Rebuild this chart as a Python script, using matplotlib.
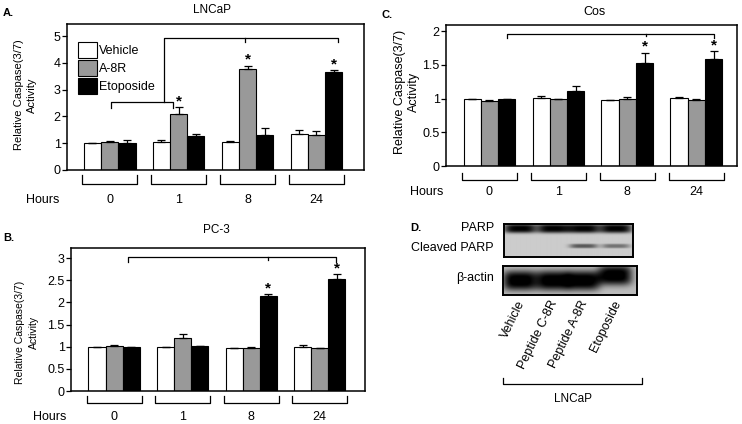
import numpy as np
import matplotlib
matplotlib.use('Agg')
import matplotlib.pyplot as plt

plt.rcParams['font.family'] = ['Liberation Sans', 'DejaVu Sans']

W, H = 742, 424

#%%
# datos
hours = ['0', '1', '8', '24']
series = ['Vehicle', 'A-8R', 'Etoposide']
colors = ['white', '#999999', 'black']

# A. LNCaP
lncap_vehicle = [1.0, 1.06, 1.06, 1.36]
lncap_a8r = [1.05, 2.10, 3.77, 1.32]
lncap_etop = [1.0, 1.28, 1.31, 3.67]
lncap_vehicle_err = [0.0, 0.05, 0.03, 0.12]
lncap_a8r_err = [0.04, 0.24, 0.13, 0.14]
lncap_etop_err = [0.12, 0.08, 0.26, 0.06]
lncap_stars = [(1, 1), (2, 1), (3, 2)]

# B. PC-3
pc3_vehicle = [1.0, 1.0, 0.98, 1.0]
pc3_a8r = [1.02, 1.19, 0.98, 0.97]
pc3_etop = [1.0, 1.01, 2.15, 2.54]
pc3_vehicle_err = [0.0, 0.0, 0.0, 0.04]
pc3_a8r_err = [0.01, 0.09, 0.02, 0.0]
pc3_etop_err = [0.0, 0.01, 0.03, 0.10]
pc3_stars = [(2, 2), (3, 2)]

# C. Cos
cos_vehicle = [1.0, 1.01, 0.98, 1.01]
cos_a8r = [0.97, 1.0, 1.0, 0.98]
cos_etop = [1.0, 1.11, 1.53, 1.58]
cos_vehicle_err = [0.0, 0.03, 0.0, 0.02]
cos_a8r_err = [0.01, 0.0, 0.02, 0.01]
cos_etop_err = [0.0, 0.08, 0.15, 0.12]
cos_stars = [(2, 2), (3, 2)]

# D. western blot
lanes = ['Vehicle', 'Peptide C-8R', 'Peptide A-8R', 'Etoposide']
parp_band = [1.0, 1.0, 1.0, 1.0]
cleaved_band = [0.0, 0.0, 0.9, 0.7]
actin_band = [1.0, 1.0, 1.0, 1.0]

#%%
fig = plt.figure(figsize=(W / 100, H / 100), dpi=100)


def px_axes(l, t, r, b):
    return fig.add_axes([l / W, 1 - b / H, (r - l) / W, (b - t) / H])


def ftext(x, y, s, **kw):
    kw.setdefault('ha', 'center')
    kw.setdefault('va', 'center')
    fig.text(x / W, 1 - y / H, s, **kw)


def panel(box, vals, errs, stars, ylim, yticks, yticklabels, xlim, grp_y, lab_y):
    l, t, r, b = box
    ax = px_axes(l, t, r, b)
    x = np.arange(len(hours))
    w = 0.25
    for k in range(3):
        ax.bar(x + (k - 1) * w, vals[k], w, color=colors[k], edgecolor='black',
               linewidth=0.8, yerr=[np.zeros(len(hours)), errs[k]], capsize=2.8,
               error_kw=dict(elinewidth=0.9, capthick=0.9, ecolor='black'))
    for g, k in stars:
        ax.annotate('*', (g + (k - 1) * w, vals[k][g] + errs[k][g]),
                    xytext=(0, 1.5), textcoords='offset points',
                    ha='center', va='baseline', fontsize=11, fontweight='bold')
    ax.set_xlim(xlim)
    ax.set_ylim(ylim)
    ax.set_yticks(yticks)
    ax.set_yticklabels(yticklabels, fontsize=9)
    ax.set_xticks([])
    ax.tick_params(axis='y', direction='out', length=3.5, width=0.9, pad=1)
    for s in ax.spines.values():
        s.set_linewidth(1.1)
    # corchetes de los grupos (debajo del eje)
    tr = ax.get_xaxis_transform()
    y0 = (b - grp_y[0]) / (b - t)
    y1 = (b - grp_y[1]) / (b - t)
    for i in x:
        ax.plot([i - 0.4, i - 0.4, i + 0.4, i + 0.4], [y0, y1, y1, y0],
                color='black', lw=0.9, transform=tr, clip_on=False)
        ax.text(i, (b - lab_y) / (b - t), hours[i], transform=tr,
                ha='center', va='center', fontsize=9)
    return ax


# A
axA = panel((67, 24, 364, 170),
            [lncap_vehicle, lncap_a8r, lncap_etop],
            [lncap_vehicle_err, lncap_a8r_err, lncap_etop_err], lncap_stars,
            (0, 5.45), [0, 1, 2, 3, 4, 5], ['0', '1', '2', '3', '4', '5'],
            (-0.62, 3.69), (175, 184), 200)
axA.plot([0.02, 0.02, 0.92, 0.92], [2.32, 2.54, 2.54, 2.32], color='black', lw=0.9)
axA.plot([0.79, 0.79, 3.31, 3.31], [2.54, 4.93, 4.93, 4.78], color='black', lw=0.9)
axA.plot([1.96, 1.96], [4.93, 4.78], color='black', lw=0.9)
# leyenda
for k, name in enumerate(series):
    yc = 50 + 18 * k
    axA.add_patch(plt.Rectangle(((78 - 67) / 297, (170 - yc - 8) / 146), 19 / 297, 16 / 146,
                                transform=axA.transAxes, facecolor=colors[k],
                                edgecolor='black', lw=0.8))
    ftext(99, yc + 1, name, ha='left', fontsize=9)
ftext(212, 10, 'LNCaP', fontsize=8.5)
ftext(3, 13, 'A.', ha='left', fontsize=8, fontweight='bold')
ftext(43, 200, 'Hours', fontsize=9)
ftext(25.5, 95, 'Relative Caspase(3/7)\nActivity', rotation=90, fontsize=8, linespacing=1.3)

# B
axB = panel((71, 248, 365, 391),
            [pc3_vehicle, pc3_a8r, pc3_etop],
            [pc3_vehicle_err, pc3_a8r_err, pc3_etop_err], pc3_stars,
            (0, 3.23), [0, 0.5, 1, 1.5, 2, 2.5, 3], ['0', '0.5', '1', '1.5', '2', '2.5', '3'],
            (-0.63, 3.66), (396, 403), 417)
axB.plot([0.2, 0.2, 3.24, 3.24], [2.91, 3.02, 3.02, 2.91], color='black', lw=0.9)
axB.plot([2.24, 2.24], [3.02, 2.96], color='black', lw=0.9)
ftext(216, 230, 'PC-3', fontsize=8.5)
ftext(3, 238, 'B.', ha='left', fontsize=8, fontweight='bold')
ftext(50, 417, 'Hours', fontsize=9)
ftext(27, 332, 'Relative Caspase(3/7)\nActivity', rotation=90, fontsize=7.5, linespacing=1.5)

# C
axC = panel((446, 25, 737, 166),
            [cos_vehicle, cos_a8r, cos_etop],
            [cos_vehicle_err, cos_a8r_err, cos_etop_err], cos_stars,
            (0, 2.09), [0, 0.5, 1, 1.5, 2], ['0', '0.5', '1', '1.5', '2'],
            (-0.63, 3.59), (173, 180), 192)
axC.plot([0.25, 0.25, 3.25, 3.25], [1.89, 1.96, 1.96, 1.89], color='black', lw=0.9)
axC.plot([2.27, 2.27], [1.96, 1.92], color='black', lw=0.9)
ftext(594, 12, 'Cos', fontsize=9)
ftext(382, 15, 'C.', ha='left', fontsize=8, fontweight='bold')
ftext(427, 192, 'Hours', fontsize=9)
ftext(407, 92, 'Relative Caspase(3/7)\nActivity', rotation=90, fontsize=9, linespacing=1.2)


#%%
# D: imagen del blot hecha con las intensidades de banda
def blot(box, lane_x, bands, bg):
    l, t, r, b = box
    ax = px_axes(l, t, r, b)
    wpx, hpx = r - l, b - t
    xx = np.arange(wpx)[None, :] + 0.5
    yy = np.arange(hpx)[:, None] + 0.5
    img = np.full((hpx, wpx), bg)
    for amps, ys, hw, hh, dark in bands:
        for xc, yc, a in zip(lane_x, ys, amps):
            img -= dark * a * np.exp(-np.abs((xx - xc) / hw) ** 4) * np.exp(-np.abs((yy - yc) / hh) ** 3)
    ax.imshow(np.clip(img, 0, 1), cmap='gray', vmin=0, vmax=1, aspect='auto',
              interpolation='bilinear', extent=(0, wpx, hpx, 0))
    ax.set_xticks([])
    ax.set_yticks([])
    for s in ax.spines.values():
        s.set_linewidth(1.4)
    return ax


blot((504, 224, 633, 257), [16, 49, 79, 111],
     [(parp_band, [4.5, 4.5, 4.5, 4.5], 16, 4.5, 0.8),
      (cleaved_band, [22, 22, 22, 22], 14, 2.2, 0.5)], 0.8)
blot((503, 266, 637, 295), [17, 50, 80, 112],
     [(actin_band, [15, 15, 15, 10], 17, 9.5, 0.8)], 0.74)

ftext(410, 228, 'D.', ha='left', fontsize=8, fontweight='bold')
ftext(494, 228, 'PARP', ha='right', fontsize=9)
ftext(494, 248, 'Cleaved PARP', ha='right', fontsize=9)
ftext(494, 278, 'β-actin', ha='right', fontsize=9)
for lx, name in zip([522, 554, 585, 618], lanes):
    fig.text(lx / W, 1 - 301 / H, name, rotation=64, rotation_mode='anchor',
             ha='right', va='center', fontsize=9)
fig.add_artist(plt.Line2D(np.array([503, 503, 642, 642]) / W,
                          1 - np.array([378, 384, 384, 378]) / H, color='black', lw=0.9))
ftext(573, 399, 'LNCaP', fontsize=8.5)

fig.savefig('out.png', dpi=100)
